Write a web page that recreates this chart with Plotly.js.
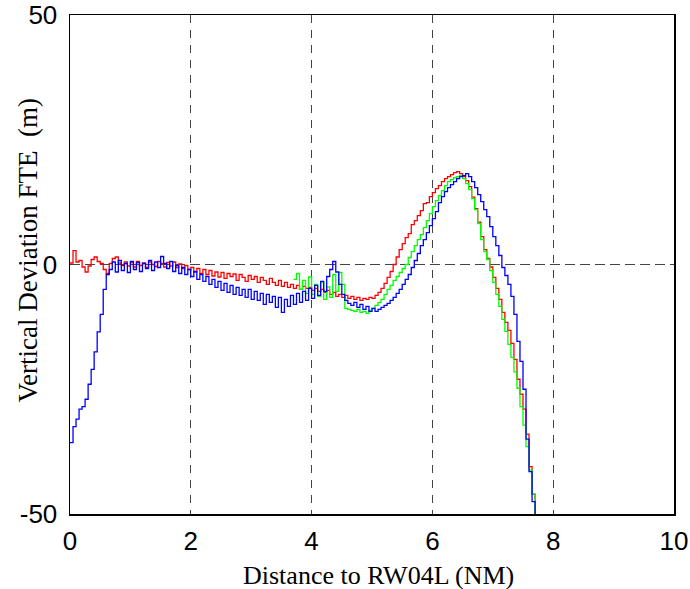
<!DOCTYPE html>
<html>
<head>
<meta charset="utf-8">
<script src="https://cdn.plot.ly/plotly-3.0.1.min.js"></script>
<style>html,body{margin:0;padding:0;background:#fff;}#chart{width:690px;height:589px;}</style>
</head>
<body>
<div id="chart"></div>
<script>
// Sampling grid (NM): each series is sampled every 0.05 NM from its start distance
const sampleStep = 0.05;
const redStart = 0.0;
const greenStart = 3.7;
const blueStart = 0.0;

// Vertical deviation FTE (m)
const redValues = [
  0.3, 2.8, 0.5, 0.8, -0.5, -1.5, -0.3, 1.0, 1.5, 0.6,
  0.2, -1.0, -1.8, 0.2, 1.2, 1.5, 0.3, -0.2, 0.5, -0.3,
  0.4, -0.5, 0.6, -0.2, 0.3, -0.6, 0.5, 0.0, -0.4, 0.6,
  0.2, -0.5, 0.4, -0.3, 0.5, -0.6, 0.1, -0.8, -0.2, -1.0,
  -0.6, -1.5, -0.8, -1.8, -1.0, -2.0, -1.2, -2.3, -1.5, -2.5,
  -1.6, -2.8, -1.8, -2.4, -1.9, -3.2, -2.0, -2.6, -3.4, -2.2,
  -3.0, -2.4, -3.6, -2.6, -3.2, -4.0, -2.8, -3.6, -4.2, -3.2,
  -4.4, -3.6, -4.6, -4.0, -4.8, -4.2, -5.0, -4.4, -4.8, -4.6,
  -5.2, -4.8, -5.4, -5.0, -5.6, -5.2, -6.0, -5.6, -6.4, -6.0,
  -6.6, -6.2, -6.8, -6.4, -7.0, -6.6, -7.2, -6.8, -7.0, -6.6,
  -6.8, -6.2, -5.6, -4.8, -3.8, -2.6, -1.4, 0.0, 1.5, 3.0,
  4.2, 5.4, 6.2, 8.0, 8.8, 9.8, 10.8, 12.2, 12.4, 13.6,
  14.4, 15.2, 15.8, 16.6, 17.2, 17.6, 18.0, 18.4, 18.6, 18.2,
  17.6, 16.8, 15.6, 13.5, 11.2, 8.5, 5.6, 3.0, 1.2, -0.5,
  -2.6, -4.8, -7.0, -9.6, -11.6, -13.2, -15.8, -19.0, -23.0, -26.0,
  -29.0, -34.0, -40.5, -46.0, -51.0
];

const greenValues = [
  -3.0, -1.8, -5.0, -3.2, -5.8, -2.5, -6.0, -4.0, -6.4, -3.6,
  -7.0, -4.5, -6.6, -2.0, -5.4, -1.6, -4.0, -8.8, -9.0, -9.2,
  -9.4, -9.0, -9.6, -9.4, -9.8, -9.2, -8.8, -8.2, -7.6, -7.0,
  -6.0, -5.0, -4.2, -3.2, -2.4, -1.6, -0.8, 0.0, 1.4, 2.6,
  3.8, 5.0, 6.0, 7.4, 8.8, 10.2, 11.6, 12.8, 13.8, 14.8,
  15.8, 16.6, 17.0, 17.4, 17.6, 17.8, 17.2, 16.2, 15.0, 13.2,
  11.0, 8.2, 5.0, 2.6, 1.0, -1.2, -3.6, -6.0, -8.4, -11.0,
  -13.4, -16.0, -18.6, -21.5, -24.8, -28.5, -32.2, -36.5, -41.2, -46.0,
  -51.0
];

const blueValues = [
  -35.7, -32.5, -31.0, -29.0, -28.5, -27.0, -24.0, -21.0, -17.5, -13.5,
  -10.0, -5.0, -2.0, -1.0, 0.5, -1.5, 0.8, -1.2, 0.2, -1.6,
  0.6, -1.0, 0.4, -1.4, 0.2, -0.8, 0.8, -1.2, 0.5, -0.6,
  1.6, 0.2, -0.8, 0.6, -1.4, -0.2, -1.8, -0.6, -2.0, -1.0,
  -2.4, -1.4, -3.0, -2.0, -3.4, -2.4, -4.0, -3.0, -4.6, -3.4,
  -5.2, -3.8, -5.6, -4.2, -6.0, -4.6, -6.2, -5.0, -6.6, -5.0,
  -7.0, -5.4, -7.2, -5.8, -8.0, -6.0, -7.6, -6.4, -8.6, -6.6,
  -9.6, -7.0, -8.4, -6.2, -8.0, -5.8, -7.6, -5.4, -7.2, -4.8,
  -6.8, -4.2, -6.2, -3.4, -5.4, -2.4, -1.0, 0.6, -1.5, -4.0,
  -6.0, -7.2, -7.8, -8.2, -7.6, -8.6, -8.0, -9.0, -8.4, -9.4,
  -8.8, -9.4, -9.0, -8.6, -8.2, -7.8, -7.2, -6.6, -5.8, -5.0,
  -4.0, -3.0, -2.0, -0.6, 0.8, 2.2, 3.8, 5.0, 6.4, 7.8,
  9.2, 10.6, 12.4, 13.6, 14.6, 15.4, 16.0, 16.6, 17.2, 17.6,
  17.8, 18.2, 17.6, 16.6, 15.4, 14.0, 12.6, 11.0, 9.6, 7.6,
  5.6, 3.8, 1.8, -0.6, -2.2, -4.0, -6.4, -10.0, -15.4, -19.4,
  -25.0, -35.0, -41.5, -47.5, -51.0
];

const xTickVals = [0, 2, 4, 6, 8, 10];
const yTickVals = [-50, 0, 50];
const xTitle = 'Distance to RW04L (NM)';
const yTitle = 'Vertical Deviation FTE\u00a0\u00a0(m)';

function trace(vals, start, color) {
  return {
    type: 'scatter', mode: 'lines',
    y: vals, x0: start, dx: sampleStep,
    line: {color: color, width: 1.3, shape: 'hv'},
    hoverinfo: 'skip', showlegend: false
  };
}

const data = [
  trace(redValues, redStart, '#ff0000'),
  trace(greenValues, greenStart, '#00ff00'),
  trace(blueValues, blueStart, '#0000ff')
];

const tickFont = {family: 'Liberation Sans, Arial, sans-serif', size: 26, color: '#000'};
const xTitleFont = {family: 'Liberation Serif, Times New Roman, serif', size: 26, color: '#000'};
const yTitleFont = {family: 'Liberation Serif, Times New Roman, serif', size: 27, color: '#000'};

const layout = {
  width: 690, height: 589,
  margin: {l: 70, r: 16, t: 15, b: 75},
  paper_bgcolor: '#ffffff', plot_bgcolor: '#ffffff',
  showlegend: false,
  xaxis: {
    range: [0, 10], tickvals: xTickVals, ticktext: xTickVals.map(String),
    showline: true, mirror: true, linecolor: '#000', linewidth: 1.5,
    showgrid: true, gridcolor: '#444', gridwidth: 1, griddash: '8px,7px',
    zeroline: false, ticks: '', ticklabelstandoff: 3,
    tickfont: tickFont
  },
  yaxis: {
    range: [-50, 50], tickvals: yTickVals, ticktext: yTickVals.map(String),
    showline: true, mirror: true, linecolor: '#000', linewidth: 1.5,
    showgrid: true, gridcolor: '#444', gridwidth: 1, griddash: '10px,5px',
    zeroline: false, ticks: '', ticklabelstandoff: 6,
    tickfont: tickFont
  },
  annotations: [{
    text: xTitle, xref: 'paper', yref: 'paper', x: 0.5, y: 0,
    xanchor: 'center', yanchor: 'middle', xshift: 6, yshift: -61,
    showarrow: false, font: xTitleFont
  }, {
    text: yTitle, xref: 'paper', yref: 'paper', x: 0, y: 0.5,
    xanchor: 'center', yanchor: 'middle', xshift: -43, yshift: 14,
    textangle: -90, showarrow: false, font: yTitleFont
  }]
};

Plotly.newPlot('chart', data, layout, {staticPlot: true, displayModeBar: false});
</script>
</body>
</html>
